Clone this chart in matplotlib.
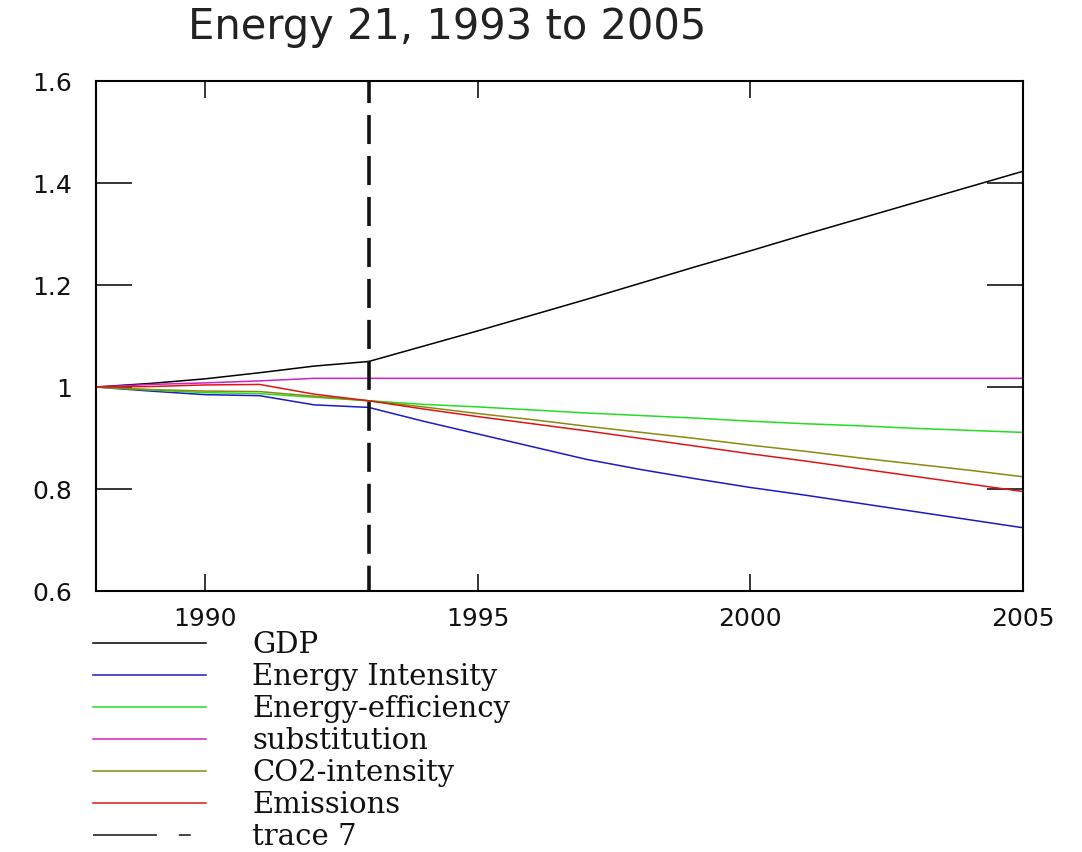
import matplotlib
matplotlib.use('Agg')
import matplotlib.pyplot as plt
from matplotlib.lines import Line2D

plt.rcParams['lines.scale_dashes'] = False

# ---------------- data ----------------
years = [1988, 1989, 1990, 1991, 1992, 1993, 1994, 1995, 1996,
         1997, 1998, 1999, 2000, 2001, 2002, 2003, 2004, 2005]

gdp = [1.000, 1.007, 1.016, 1.028, 1.041, 1.050, 1.080, 1.110, 1.141,
       1.172, 1.204, 1.236, 1.267, 1.299, 1.330, 1.361, 1.392, 1.423]
energy_intensity = [1.000, 0.992, 0.985, 0.983, 0.965, 0.960, 0.933, 0.908, 0.883,
                    0.858, 0.838, 0.820, 0.803, 0.788, 0.772, 0.756, 0.740, 0.724]
energy_efficiency = [1.000, 0.994, 0.989, 0.987, 0.980, 0.973, 0.966, 0.961, 0.955,
                     0.949, 0.944, 0.939, 0.933, 0.928, 0.924, 0.919, 0.915, 0.911]
substitution = [1.000, 1.005, 1.008, 1.012, 1.017, 1.017, 1.017, 1.017, 1.017,
                1.017, 1.017, 1.017, 1.017, 1.017, 1.017, 1.017, 1.017, 1.017]
co2_intensity = [1.000, 0.995, 0.992, 0.991, 0.982, 0.973, 0.961, 0.948, 0.936,
                 0.923, 0.911, 0.899, 0.886, 0.874, 0.861, 0.849, 0.837, 0.824]
emissions = [1.000, 1.001, 1.004, 1.005, 0.986, 0.973, 0.957, 0.942, 0.928,
             0.914, 0.899, 0.884, 0.869, 0.855, 0.840, 0.825, 0.810, 0.795]

trace7_x = [1993, 1993]
trace7_y = [1.6, 0.6]

series_names = ['GDP', 'Energy Intensity', 'Energy-efficiency', 'substitution',
                'CO2-intensity', 'Emissions', 'trace 7']
series_colors = ['#000000', '#1a1ac8', '#22dd22', '#cc22cc', '#8a8a10', '#dd1515', '#111111']

x_ticks = [1990, 1995, 2000, 2005]
x_tick_labels = ['1990', '1995', '2000', '2005']
y_ticks = [0.6, 0.8, 1.0, 1.2, 1.4, 1.6]
y_tick_labels = ['0.6', '0.8', '1', '1.2', '1.4', '1.6']
title_text = 'Energy 21, 1993 to 2005'

# ---------------- figure ----------------
W, H = 1082, 853
fig = plt.figure(figsize=(W / 100, H / 100), dpi=100)
fig.patch.set_facecolor('white')
ax = fig.add_axes([96 / W, 1 - 592 / H, 927 / W, 510 / H])

data_series = [gdp, energy_intensity, energy_efficiency, substitution,
               co2_intensity, emissions]
for vals, col in zip(data_series, series_colors[:6]):
    ax.plot(years, vals, color=col, lw=1.1, solid_joinstyle='miter')

ax.plot(trace7_x, trace7_y, color=series_colors[6], lw=2.6,
        linestyle=(5.0, (20.9, 8.6)), dash_capstyle='butt')

ax.set_xlim(1988, 2005)
ax.set_ylim(0.6, 1.6)
ax.set_xticks(x_ticks)
ax.set_xticklabels(x_tick_labels)
ax.set_yticks(y_ticks)
ax.set_yticklabels(y_tick_labels)

for sp in ax.spines.values():
    sp.set_linewidth(1.5)
    sp.set_color('black')

ax.tick_params(axis='x', direction='in', top=True, bottom=True, length=12,
               width=1.1, pad=11, labelsize=18, colors='black')
ax.tick_params(axis='y', direction='in', left=True, right=True, length=26,
               width=1.1, pad=17, labelsize=18, colors='black')
for lab in ax.get_xticklabels() + ax.get_yticklabels():
    lab.set_family('DejaVu Sans')
    lab.set_color('#111111')

fig.text(447 / W, 1 - 39 / H, title_text, ha='center', va='baseline',
         fontsize=30, family='DejaVu Sans', color='#222222')

# ---------------- legend (Mathcad style, below plot) ----------------
row0 = 644.0
row_step = 32.0
for i, (name, col) in enumerate(zip(series_names, series_colors)):
    yp = row0 + i * row_step
    yf = 1 - yp / H
    if name == 'trace 7':
        ln = Line2D([93 / W, 191 / W], [yf, yf], transform=fig.transFigure,
                    color=col, lw=1.1, linestyle=(0, (46.0, 15.8, 8.6, 40.0)))
    else:
        ln = Line2D([93 / W, 206 / W], [yf, yf], transform=fig.transFigure,
                    color=col, lw=1.1)
    fig.add_artist(ln)
    fig.text(252 / W, 1 - (yp + 9) / H, name, ha='left', va='baseline',
             fontsize=21, family='DejaVu Serif', color='#111111')

fig.savefig('out.png', dpi=100, facecolor='white')
